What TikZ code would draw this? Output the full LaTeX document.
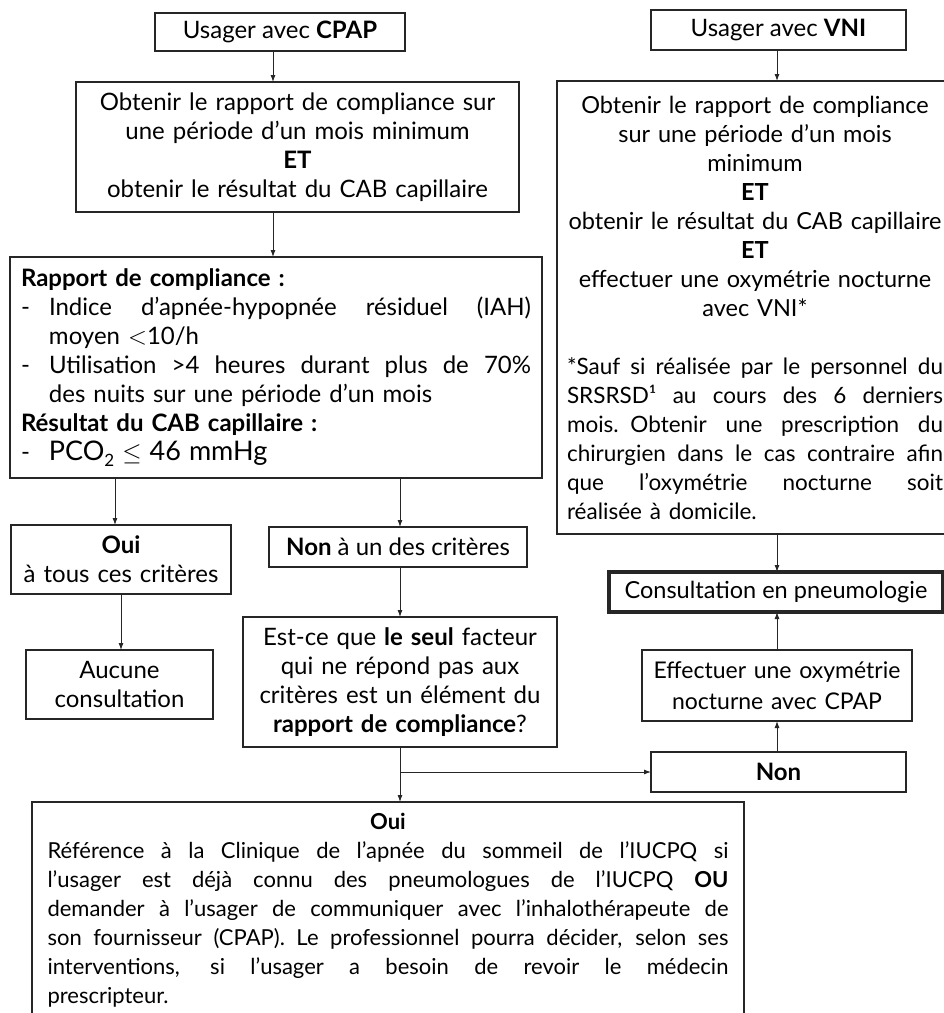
\documentclass[tikz,border=0pt]{standalone}
\usepackage{fontspec}
\setmainfont{Lato}
\usetikzlibrary{arrows.meta}
\newcommand\myfs{\fontsize{24}{29}\selectfont}
\newcommand\mysmallfs{\fontsize{22.5}{29}\selectfont}
\newcommand\jline[2]{\leavevmode\hbox to #1{\spaceskip=\fontdimen2\font plus 1fil\relax #2}}
\begin{document}
\begin{tikzpicture}[x=1pt,y=-1pt,
  bsk/.style={execute at begin node={\baselineskip=#1\lineskiplimit=-40pt\lineskip=0pt\relax}},
  box/.style={draw=black!85, line width=1.1pt, inner sep=0pt, outer sep=0pt, align=center, font=\myfs, text=black, bsk=29pt},
  arr/.style={-{Latex[length=7pt,width=5pt]}, line width=0.9pt, draw=black!85},
]
\useasboundingbox (0,0) rectangle (944,1013);
\clip (0,0) rectangle (944,1013);

% left column
\node[box, minimum width=250pt, minimum height=38pt] (cpap) at (280,32) {Usager avec \textbf{CPAP}};
\node[box, minimum width=443pt, minimum height=130pt, text width=430pt] (obt) at (297.5,147)
 {Obtenir le rapport de compliance sur\\ une période d’un mois minimum\\ \textbf{ET}\\ obtenir le résultat du CAB capillaire};
\node[box, minimum width=532pt, minimum height=221pt, text width=510pt, align=left] (rap) at (276,367.5)
 {\textbf{Rapport de compliance :}\\
  \makebox[28pt][l]{-}\jline{482pt}{Indice d’apnée-hypopnée résiduel (IAH)}\\
  \hspace*{28pt}moyen ${<}$10/h\\
  \makebox[28pt][l]{-}\jline{482pt}{Utilisation >4 heures durant plus de 70\%}\\
  \hspace*{28pt}des nuits sur une période d’un mois\\
  \textbf{Résultat du CAB capillaire :}\\
  \makebox[28pt][l]{-}{\fontsize{27}{29}\selectfont PCO\raisebox{-6pt}{\fontsize{17}{17}\selectfont 2} $\leq$ 46 mmHg}};
\node[box, minimum width=220pt, minimum height=69pt, text width=210pt] (oui) at (121,559.5) {\textbf{Oui}\\ à tous ces critères};
\node[box, minimum width=187pt, minimum height=69pt, text width=180pt] (auc) at (119.5,684.5) {Aucune\\ consultation};
\node[box, minimum width=258pt, minimum height=40pt] (nonc) at (398,547) {\textbf{Non} à un des critères};
\node[box, minimum width=314pt, minimum height=130pt, text width=304pt] (est) at (400,682)
 {Est-ce que \textbf{le seul} facteur\\ qui ne répond pas aux\\ critères est un élément du\\ \textbf{rapport de compliance}?};

% right column
\node[box, minimum width=255pt, minimum height=40pt] (vni) at (778.5,30) {Usager avec \textbf{VNI}};
\node[box, minimum width=396pt, minimum height=453pt, text width=394pt, font=\fontsize{23.5}{29}\selectfont] (vnib) at (755,307.5)
 {Obtenir le rapport de compliance\\ sur une période d’un mois\\ minimum\\ \textbf{ET}\\ obtenir le résultat du CAB capillaire\\ \textbf{ET}\\ effectuer une oxymétrie nocturne\\ avec VNI*\\[29pt]
  {\mysmallfs
  \jline{376pt}{*Sauf si réalisée par le personnel du}\\
  \jline{376pt}{SRSRSD¹ au cours des 6 derniers}\\
  \jline{376pt}{mois. Obtenir une prescription du}\\
  \jline{376pt}{chirurgien dans le cas contraire afin}\\
  \jline{376pt}{que l’oxymétrie nocturne soit}\\
  \makebox[376pt][l]{réalisée à domicile.}}};
\node[box, line width=3.2pt, minimum width=334pt, minimum height=40pt, font=\fontsize{23.5}{29}\selectfont] (cons) at (776,592) {Consultation en pneumologie};
\node[box, minimum width=270pt, minimum height=71pt, text width=262pt, font=\fontsize{23}{30}\selectfont, bsk=31pt] (eff) at (777,685.5) {Effectuer une oxymétrie\\ nocturne avec CPAP};
\node[box, minimum width=255pt, minimum height=40pt] (non) at (778.5,772) {\textbf{Non}};

% bottom
\node[box, minimum width=712pt, minimum height=216pt, text width=681pt, font=\fontsize{22}{29}\selectfont] (ouib) at (388,910)
 {\textbf{Oui}\\
  \jline{681pt}{Référence à la Clinique de l’apnée du sommeil de l’IUCPQ si}\\
  \jline{681pt}{l’usager est déjà connu des pneumologues de l’IUCPQ \textbf{OU}}\\
  \jline{681pt}{demander à l’usager de communiquer avec l’inhalothérapeute de}\\
  \jline{681pt}{son fournisseur (CPAP). Le professionnel pourra décider, selon ses}\\
  \jline{681pt}{interventions, si l’usager a besoin de revoir le médecin}\\
  \makebox[681pt][l]{prescripteur.}};

% connector x positions
\coordinate (xa) at (273,0);
\coordinate (xb) at (115,0);
\coordinate (xc) at (400,0);
\coordinate (xd) at (121,0);
\coordinate (xe) at (777,0);
\coordinate (j) at (400,772);

\draw[arr] (cpap.south -| xa) -- (obt.north -| xa);
\draw[arr] (obt.south -| xa) -- (rap.north -| xa);
\draw[arr] (rap.south -| xb) -- (oui.north -| xb);
\draw[arr] (rap.south -| xc) -- (nonc.north -| xc);
\draw[arr] (oui.south -| xd) -- (auc.north -| xd);
\draw[arr] (nonc.south -| xc) -- (est.north -| xc);
\draw[arr] (est.south -| xc) -- (ouib.north -| xc);
\draw[arr] (j) -- (non.west);
\draw[arr] (non.north -| xe) -- (eff.south -| xe);
\draw[arr] (eff.north -| xe) -- (cons.south -| xe);
\draw[arr] (vni.south -| xe) -- (vnib.north -| xe);
\draw[arr] (vnib.south -| xe) -- (cons.north -| xe);
\end{tikzpicture}
\end{document}
